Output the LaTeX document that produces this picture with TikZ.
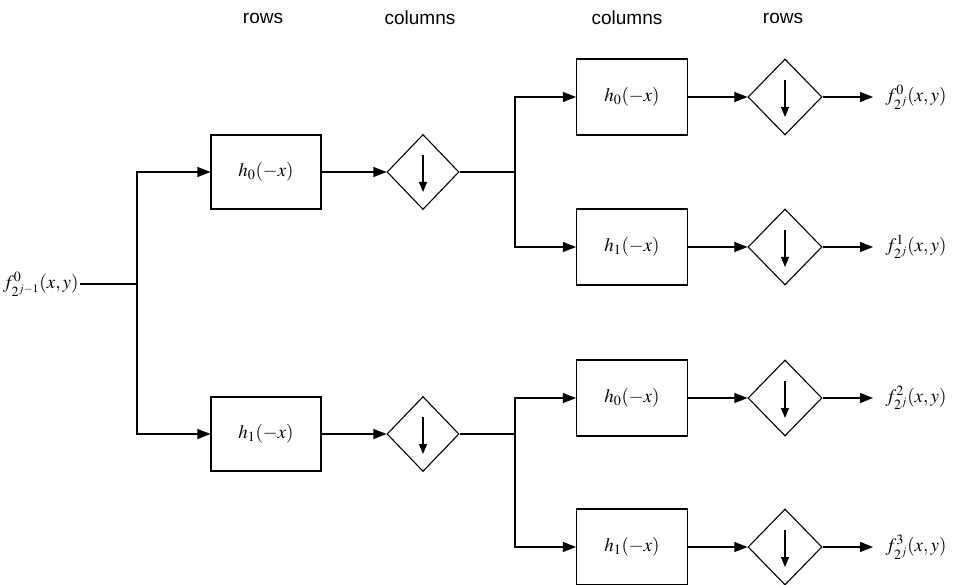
\documentclass[tikz,border=0pt]{standalone}
\usepackage{mathptmx}
\usepackage{fontspec}
\setsansfont{Liberation Sans}
\usetikzlibrary{arrows.meta, shapes.geometric}

\begin{document}
\begin{tikzpicture} [x=1pt, y=-1pt, line width=1.1pt,
	filt/.style={draw, rectangle, minimum width=110pt, minimum height=74pt, font=\fontsize{19}{22}\selectfont},
	deci/.style={draw, diamond, minimum width=72pt, minimum height=75pt, inner sep=0pt},
	head/.style={font=\sffamily\fontsize{19}{23}\selectfont},
	sig/.style={font=\fontsize{19}{22}\selectfont},
	>={Triangle[length=13pt, width=10pt]},
	dn/.style={->, >={Triangle[length=10pt, width=8pt]}}]
\useasboundingbox (0,0) rectangle (963,585);

\path (263,18) node[head] (t1) {rows}
	  (420,18) node[head] (t2) {columns}
	  (627,18) node[head] (t3) {columns}
	  (783,18) node[head] (t4) {rows};

\path (80,284) node[sig, anchor=east, inner xsep=1pt] (in) {$f^{0}_{2^{j-1}}(x,y)$}
	  (137,284) coordinate (s0);

\path (266,172) node[filt] (a0) {$h_0(-x)$}
	  (266,434) node[filt] (a1) {$h_1(-x)$}
	  (423,172) node[deci] (d0) {}
	  (423,434) node[deci] (d1) {}
	  (515,172) coordinate (j0)
	  (515,434) coordinate (j1);

\draw (in) -- (s0);
\draw[->] (s0) |- (a0);
\draw[->] (s0) |- (a1);
\draw[->] (a0) -- (d0);
\draw[->] (a1) -- (d1);
\draw (d0) -- (j0);
\draw (d1) -- (j1);

\path (632,97) node[filt, minimum width=111pt, minimum height=76pt] (b0) {$h_0(-x)$}
	  (632,247) node[filt, minimum width=111pt, minimum height=76pt] (b1) {$h_1(-x)$}
	  (632,398) node[filt, minimum width=111pt, minimum height=76pt] (b2) {$h_0(-x)$}
	  (632,547) node[filt, minimum width=111pt, minimum height=76pt] (b3) {$h_1(-x)$};

\path (785,97) node[deci, minimum width=74pt, minimum height=76pt] (e0) {}
	  (785,247) node[deci, minimum width=74pt, minimum height=76pt] (e1) {}
	  (785,398) node[deci, minimum width=74pt, minimum height=76pt] (e2) {}
	  (785,547) node[deci, minimum width=74pt, minimum height=76pt] (e3) {};

\path (873,97) node[sig, anchor=west, inner xsep=12pt] (o0) {$f^{0}_{2^j}(x,y)$}
	  (873,247) node[sig, anchor=west, inner xsep=12pt] (o1) {$f^{1}_{2^j}(x,y)$}
	  (873,398) node[sig, anchor=west, inner xsep=12pt] (o2) {$f^{2}_{2^j}(x,y)$}
	  (873,547) node[sig, anchor=west, inner xsep=12pt] (o3) {$f^{3}_{2^j}(x,y)$};

\draw[->] (j0) |- (b0);
\draw[->] (j0) |- (b1);
\draw[->] (j1) |- (b2);
\draw[->] (j1) |- (b3);

\draw[->] (b0) -- (e0);
\draw[->] (b1) -- (e1);
\draw[->] (b2) -- (e2);
\draw[->] (b3) -- (e3);

\draw[->] (e0) -- (o0);
\draw[->] (e1) -- (o1);
\draw[->] (e2) -- (o2);
\draw[->] (e3) -- (o3);

% down-sampling arrows
\draw[dn] ([yshift=17pt]d0.center) -- ([yshift=-20pt]d0.center);
\draw[dn] ([yshift=17pt]d1.center) -- ([yshift=-20pt]d1.center);
\draw[dn] ([yshift=17pt]e0.center) -- ([yshift=-20pt]e0.center);
\draw[dn] ([yshift=17pt]e1.center) -- ([yshift=-20pt]e1.center);
\draw[dn] ([yshift=17pt]e2.center) -- ([yshift=-20pt]e2.center);
\draw[dn] ([yshift=17pt]e3.center) -- ([yshift=-20pt]e3.center);
\end{tikzpicture}
\end{document}
